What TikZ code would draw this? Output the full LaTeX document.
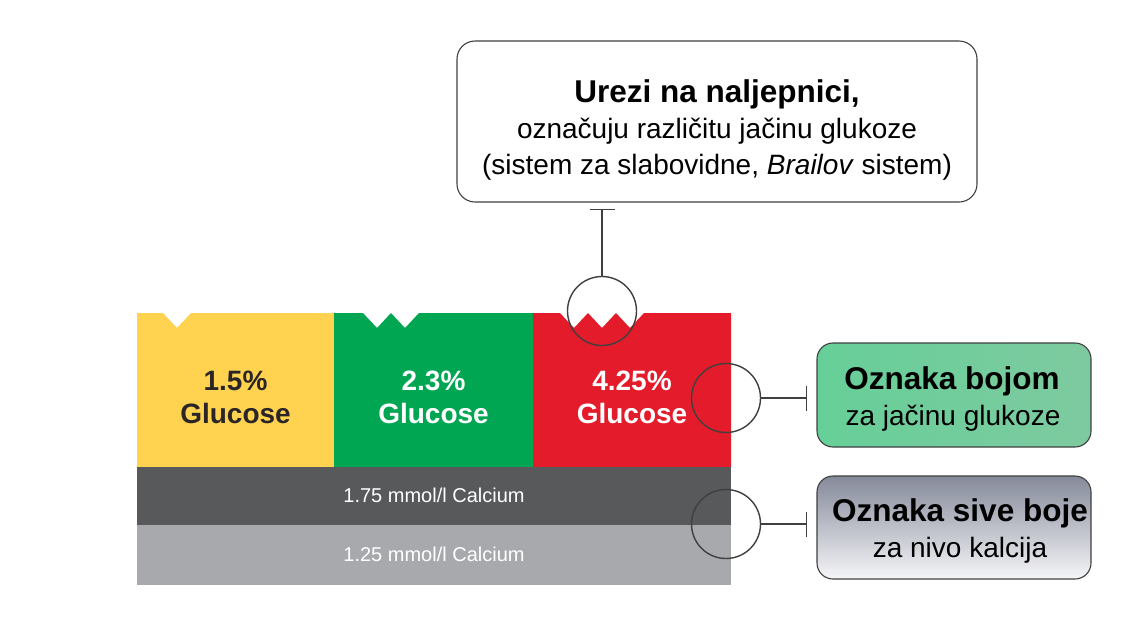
\documentclass[tikz,border=0pt]{standalone}
\usepackage{fontspec}
\setmainfont{Liberation Sans}
\usetikzlibrary{arrows.meta,calc}
\definecolor{cyellow}{HTML}{FFD24F}
\definecolor{cgreen}{HTML}{00A651}
\definecolor{cred}{HTML}{E31B2A}
\definecolor{cdgray}{HTML}{58595B}
\definecolor{clgray}{HTML}{A7A9AC}
\definecolor{cdark}{HTML}{2A2627}
\definecolor{cline}{HTML}{404040}
\definecolor{gboxl}{HTML}{66CF98}
\definecolor{gboxr}{HTML}{7ECAA0}
\definecolor{sboxt}{HTML}{858A9A}
\definecolor{sboxb}{HTML}{F6F6F8}
\begin{document}
\begin{tikzpicture}[x=1pt,y=-1pt,
  lens/.style={draw=cline,line width=1.4pt,circle,minimum size=69pt,inner sep=0pt},
  tline/.style={draw=cline,line width=1.2pt,-{Bar[width=25pt]}},
  callout/.style={draw=cline,line width=1.1pt,rounded corners=18pt,inner sep=0pt},
  headbold/.style={anchor=base,font=\fontsize{31.5}{36}\selectfont\bfseries},
  subtext/.style={anchor=base,font=\fontsize{28}{34}\selectfont},
  glabel/.style={anchor=base,font=\fontsize{28}{34}\selectfont\bfseries},
  calabel/.style={anchor=base,font=\fontsize{20}{24}\selectfont,text=white}
]
\useasboundingbox (0,0) rectangle (1128,638);
\fill[white] (0,0) rectangle (1128,638);

% colour bars with notches
\fill[cyellow] (137,313) -- (163,313) -- (177,328) -- (191,313) -- (334,313)
  -- (334,467) -- (137,467) -- cycle;
\fill[cgreen] (334,313) -- (363,313) -- (377,328) -- (391,313) -- (405,328)
  -- (419,313) -- (533,313) -- (533,467) -- (334,467) -- cycle;
\fill[cred] (533,313) -- (560,313) -- (574,328) -- (588,313) -- (602,328)
  -- (616,313) -- (630,328) -- (644,313) -- (731,313) -- (731,467)
  -- (533,467) -- cycle;
\fill[cdgray] (137,467) rectangle (731,525);
\fill[clgray] (137,525) rectangle (731,585);

% bar texts
\node[glabel,text=cdark] (y1) at (235.5,390) {1.5\%};
\node[glabel,text=cdark] (y2) at (235.5,423) {Glucose};
\node[glabel,text=white] (gr1) at (433.5,390) {2.3\%};
\node[glabel,text=white] (gr2) at (433.5,423) {Glucose};
\node[glabel,text=white] (r1) at (632,390) {4.25\%};
\node[glabel,text=white] (r2) at (632,423) {Glucose};
\node[calabel] (ca1) at (434,502) {1.75 mmol/l Calcium};
\node[calabel] (ca2) at (434,561) {1.25 mmol/l Calcium};

% lenses
\node[lens] (c1) at (602,311) {};
\node[lens] (c2) at (726,398) {};
\node[lens] (c3) at (726,524) {};

% top callout
\node[callout,minimum width=520pt,minimum height=161pt] (ubox) at (717,121.5) {};
\node[headbold] (u1) at (717,102) {Urezi na naljepnici,};
\node[subtext] (u2) at (717,138) {označuju različitu jačinu glukoze};
\node[subtext] (u3) at (717,174) {(sistem za slabovidne, \textit{Brailov} sistem)};

% right callouts
\node[callout,rounded corners=16pt,left color=gboxl,right color=gboxr,
  minimum width=274pt,minimum height=104pt] (gbox) at (954,395) {};
\node[headbold] (g1) at (952,389) {Oznaka bojom};
\node[subtext] (g2) at (953,425) {za jačinu glukoze};

\node[callout,rounded corners=16pt,top color=sboxt,bottom color=sboxb,
  minimum width=274pt,minimum height=103pt] (sbox) at (954,527.5) {};
\node[headbold] (s1) at (960,521) {Oznaka sive boje};
\node[subtext] (s2) at (960,557) {za nivo kalcija};

% connectors
\coordinate (t1) at (602,209);
\coordinate (t2) at (807,398);
\coordinate (t3) at (807,524);
\draw[tline] (c1.north) -- (t1);
\draw[tline] (c2.east) -- (t2);
\draw[tline] (c3.east) -- (t3);
\end{tikzpicture}
\end{document}
